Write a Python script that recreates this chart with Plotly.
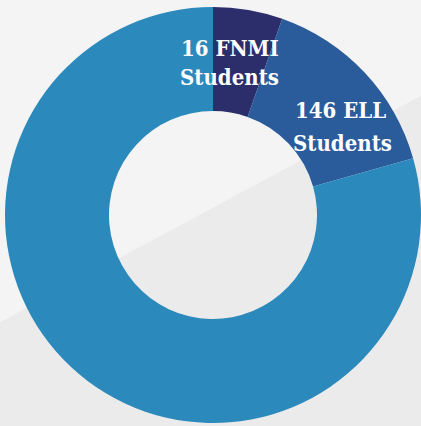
import plotly.graph_objects as go

# Data
groups = ["FNMI", "ELL", "Other"]
shares = [5.4, 15.2, 79.4]          # slice sizes (angle share, % of ring)
counts = [16, 146, None]            # numbers printed in the labels
label_lines = [["16 FNMI", "Students"], ["146 ELL", "Students"]]
colors = ["#2c2e6c", "#2a5c9c", "#2b89bc"]

W, H = 421, 426
L, R, T, B = 5, 0, 7, 3
PW, PH = W - L - R, H - T - B


def px(x):
    return (x - L) / PW


def py(y):
    return 1 - (y - T) / PH


fig = go.Figure(
    go.Pie(
        labels=groups,
        values=shares,
        hole=0.5,
        sort=False,
        direction="clockwise",
        rotation=0,
        marker=dict(colors=colors, line=dict(width=0)),
        textinfo="none",
        hoverinfo="label",
        showlegend=False,
    )
)

# background: lighter upper-left part separated by a diagonal
fig.add_shape(
    type="path",
    xref="paper",
    yref="paper",
    path=f"M {px(-5)} {py(-10)} L {px(430)} {py(-10)} L {px(430)} {py(91)} L {px(-5)} {py(325)} Z",
    fillcolor="#f4f4f4",
    line=dict(width=0),
    layer="below",
)

label_pos = [[(229.5, 47), (229.5, 76)], [(340, 108.5), (342, 141.5)]]
for lines, poss in zip(label_lines, label_pos):
    for txt, (x, y) in zip(lines, poss):
        fig.add_annotation(
            x=px(x),
            y=py(y + 1),
            xref="paper",
            yref="paper",
            text=txt,
            showarrow=False,
            xanchor="center",
            yanchor="middle",
            font=dict(family="DejaVu Serif Condensed, DejaVu Serif", size=22,
                      color="white", weight="bold"),
        )

fig.update_layout(
    width=W,
    height=H,
    margin=dict(l=L, r=R, t=T, b=B),
    paper_bgcolor="#ebebeb",
    plot_bgcolor="#ebebeb",
)

fig.write_html(
    "out.html",
    config={"displayModeBar": False},
    post_script="document.body.style.margin='0';document.body.style.overflow='hidden';",
)
